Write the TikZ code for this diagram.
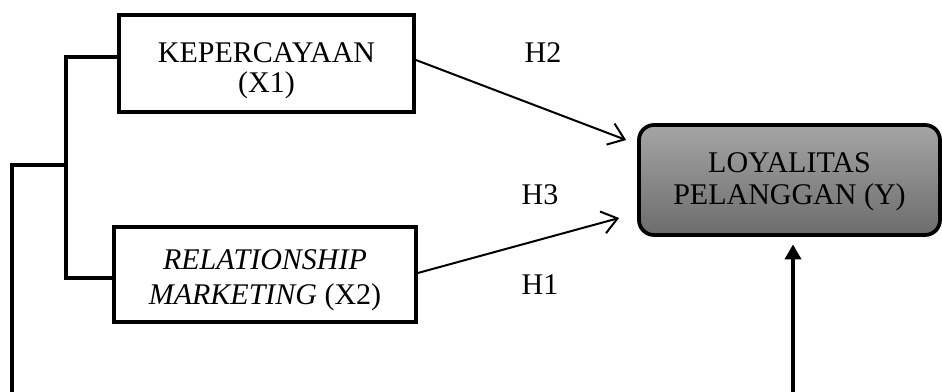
\documentclass[tikz,border=0pt]{standalone}
\usepackage{fontspec}
\setmainfont{Liberation Serif}
\usetikzlibrary{arrows.meta}
\definecolor{ytop}{RGB}{165,165,165}
\definecolor{ybot}{RGB}{108,108,108}
\tikzset{
  box/.style={draw=black, line width=1.5pt, inner sep=0pt},
  txt/.style={align=center, inner sep=0pt, font=\fontsize{12}{12}\selectfont},
  ybox/.style={box, rounded corners=6pt, top color=ytop, bottom color=ybot},
  conn/.style={line width=1.5pt},
  arr/.style={line width=0.8pt, -{Straight Barb[length=6pt,width=9pt]}},
  uparr/.style={line width=1.5pt, -{Triangle[length=6pt,width=6.4pt]}},
  hlabel/.style={font=\fontsize{12}{12}\selectfont, inner sep=0pt}
}
\begin{document}
\begin{tikzpicture}[x=0.4pt,y=-0.4pt]
\useasboundingbox (0,0) rectangle (942,392);
\node[box, minimum width=118pt, minimum height=38.8pt,
  label={[txt,yshift=-2.8pt]center:KEPERCAYAAN\\(X1)}] (x1) at (266.5,63.5) {};
\node[box, minimum width=120.8pt, minimum height=38pt,
  label={[txt,yshift=-2.4pt,font=\fontsize{12}{14}\selectfont]center:\textit{RELATIONSHIP}\\\textit{MARKETING} (X2)}] (x2) at (265,274.5) {};
\node[ybox, minimum width=120.4pt, minimum height=44pt,
  label={[txt,yshift=-0.6pt,font=\fontsize{12}{12.8}\selectfont]center:LOYALITAS\\PELANGGAN (Y)}] (y) at (789.5,180) {};
\node[hlabel] (h2) at (543,53) {H2};
\node[hlabel] (h3) at (540,195) {H3};
\node[hlabel] (h1) at (540,285) {H1};
\coordinate (b1) at (66,57);
\coordinate (b2) at (66,278);
\coordinate (o1) at (12,392);
\coordinate (o2) at (12,165);
\coordinate (yb) at (793,392);
\draw[conn] (b1 -| x1.west) -- (b1) -- (b2) -- (b2 -| x2.west);
\draw[conn] (o1) -- (o2) -- (o2 -| b1);
\draw[arr] ([yshift=1.4pt]x1.east) -- ([xshift=-4.4pt,yshift=16pt]y.west);
\draw[arr] ([yshift=0.6pt]x2.east) -- ([xshift=-7.2pt,yshift=-15.2pt]y.west);
\draw[uparr] (yb) -- ([yshift=-3pt]yb |- y.south);
\end{tikzpicture}
\end{document}
